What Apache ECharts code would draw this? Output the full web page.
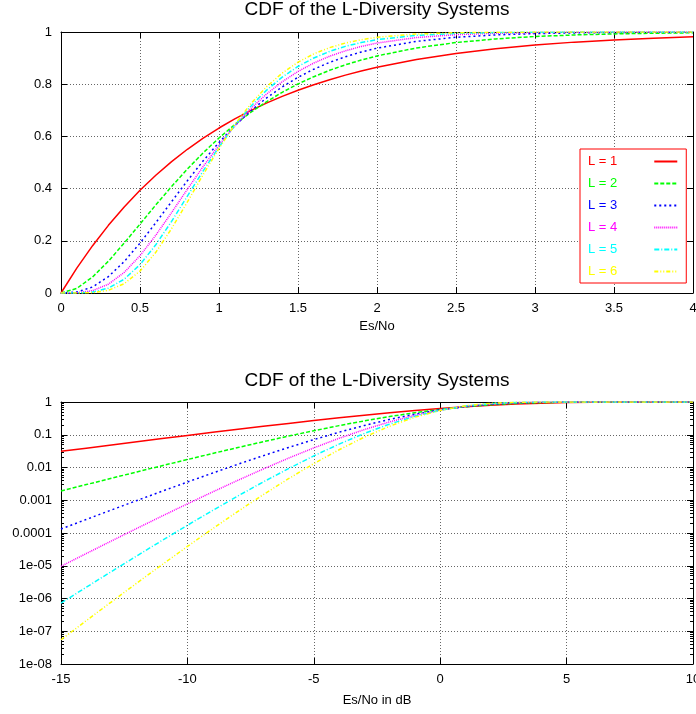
<!DOCTYPE html>
<html>
<head>
<meta charset="utf-8">
<script src="https://cdn.jsdelivr.net/npm/echarts@6/dist/echarts.min.js"></script>
<style>
  html, body { margin: 0; padding: 0; background: #fff; }
  #chart { width: 696px; height: 714px; }
</style>
</head>
<body>
<div id="chart"></div>
<script>
// top plot: Es/No (linear)
var xLin = [0, 0.1, 0.2, 0.3, 0.4, 0.5, 0.6, 0.7, 0.8, 0.9, 1.0, 1.1, 1.2, 1.3, 1.4, 1.5, 1.6, 1.7, 1.8, 1.9, 2.0,
            2.25, 2.5, 2.75, 3, 3.25, 3.5, 3.75, 4];
var cdf1 = [0, .0952, .1813, .2592, .3297, .3935, .4512, .5034, .5507, .5934, .6321, .6671, .6988, .7275, .7534, .7769, .7981, .8173, .8347, .8504, .8647,
            .8946, .9179, .9361, .9502, .9612, .9698, .9765, .9817];
var cdf2 = [0, .0175, .0616, .1219, .1912, .2642, .3374, .4082, .4751, .5372, .5940, .6454, .6916, .7326, .7689, .8009, .8288, .8532, .8743, .8926, .9084,
            .9389, .9596, .9734, .9826, .9887, .9927, .9953, .9970];
var cdf3 = [0, .0036, .0231, .0628, .1205, .1912, .2694, .3501, .4303, .5064, .5768, .6406, .6973, .7469, .7897, .8264, .8575, .8835, .9052, .9232, .9380,
            .9642, .9797, .9887, .9938, .9966, .9982, .9990, .9995];
var cdf4 = [0, .0008, .0091, .0337, .0788, .1429, .2214, .3082, .3975, .4848, .5665, .6405, .7058, .7619, .8094, .8488, .8811, .9072, .9280, .9446, .9576,
            .9788, .9897, .9951, .9977, .9990, .9995, .9998, .9999];
var cdf5 = [0, .0002, .0037, .0186, .0527, .1088, .1847, .2746, .3712, .4679, .5595, .6425, .7149, .7764, .8270, .8679, .9004, .9256, .9450, .9597, .9707,
            .9873, .9947, .9978, .9991, .9997, .9999, 1, 1];
var cdf6 = [0, .00004, .0015, .0104, .0357, .0839, .1559, .2468, .3490, .4539, .5543, .6453, .7241, .7897, .8427, .8843, .9162, .9401, .9577, .9705, .9797,
            .9923, .9972, .9990, .9997, .9999, 1, 1, 1];

// bottom plot: Es/No in dB (log y)
var xDb = [-15, -14, -13, -12, -11, -10, -9, -8, -7, -6, -5, -4, -3, -2, -1, 0, 1, 2, 3, 4, 5, 6, 7, 8, 9, 10];
var db1 = [.03113, .03903, .04888, .06115, .07636, .09516, .11829, .14657, .18088, .22221, .27110, .32838, .39421,
           .46789, .54811, .63212, .71608, .79505, .86399, .91889, .95770, .98133, .99335, .99818, .99965, .99995];
var db2 = [.001918, .003007, .004701, .007323, .011359, .017523, .02686, .04074, .06129, .09093, .13271, .18984, .26513,
           .35965, .47134, .59399, .71642, .82479, .90773, .96036, .98687, .99688, .99955, .99996, 1, 1];
var db3 = [1.3255e-4, 2.5966e-4, 5.0632e-4, 9.8145e-4, 1.8882e-3, 3.5995e-3, 6.7825e-3, .012596, .02295, .04092, .07106, .11931, .19210,
           .29435, .42587, .57681, .72728, .85323, .93740, .98031, .99579, .99945, .99997, 1, 1, 1];
var db4 = [9.642e-6, 2.3597e-5, 5.7361e-5, 1.3826e-4, 3.2979e-4, 7.7624e-4, 1.7971e-3, 4.0757e-3, 9.0072e-3, .01929, .03969, .07787, .14376,
           .24745, .39254, .56653, .73993, .87656, .95706, .99002, .99861, .9999, 1, 1, 1, 1];
var db5 = [7.2203e-7, 2.2070e-6, 6.6871e-6, 2.0042e-5, 5.9245e-5, 1.7212e-4, 4.8940e-4, 1.3543e-3, 3.6237e-3, .00926, .02261, .05189, .10983,
           .21134, .36570, .55951, .75236, .89590, .97029, .99486, .9995, 1, 1, 1, 1, 1];
var db6 = [5.509e-8, 2.1030e-7, 7.9420e-7, 2.9589e-6, 1.0838e-5, 3.8856e-5, 1.3564e-4, 4.5786e-4, 1.4825e-3, 4.5574e-3, .01316, .03483, .08471,
           .18242, .34318, .55432, .76448, .91175, .97929, .99734, .9999, 1, 1, 1, 1, 1];

var names = ['L = 1', 'L = 2', 'L = 3', 'L = 4', 'L = 5', 'L = 6'];
var colors = ['#ff0000', '#00ff00', '#0000ff', '#ff00ff', '#00ffff', '#ffff00'];
var dashes = ['solid', [4, 2], [2, 3], [1, 1], [5, 2, 1, 2], [4, 2, 1, 2, 1, 2]];
var linData = [cdf1, cdf2, cdf3, cdf4, cdf5, cdf6];
var dbData = [db1, db2, db3, db4, db5, db6];

var FONT = 'Liberation Sans';
var chart = echarts.init(document.getElementById('chart'));

function pairs(xs, ys) {
    return xs.map(function (x, i) { return [x, ys[i]]; });
}

var gridLine = { show: true, lineStyle: { color: '#666', type: [1, 2], width: 1 } };
var axLine = { show: true, onZero: false, lineStyle: { color: '#000', width: 1 } };
var lbl = { color: '#000', fontSize: 13, fontFamily: FONT };
var tick = { inside: true, length: 6, lineStyle: { color: '#000' } };

function mirror(base) {
    return Object.assign({
        axisLine: axLine,
        axisTick: tick,
        axisLabel: { show: false },
        splitLine: { show: false }
    }, base);
}

// minor ticks of the log axis (2..9 per decade)
var minorVals = [];
for (var e = -8; e < 0; e++) {
    for (var m = 2; m <= 9; m++) minorVals.push(m * Math.pow(10, e));
}

function logLabel(v) {
    var ex = Math.round(Math.log10(v));
    if (ex >= -4) return String(Number(Math.pow(10, ex).toPrecision(1)));
    return '1e-0' + (-ex);
}

var series = [];
names.forEach(function (n, i) {
    var ls = { color: colors[i], width: 1.5, type: dashes[i] };
    series.push({
        name: n, type: 'line', xAxisIndex: 0, yAxisIndex: 0,
        symbol: 'none', animation: false, lineStyle: ls, itemStyle: { color: colors[i] },
        data: pairs(xLin, linData[i])
    });
    series.push({
        name: n, type: 'line', xAxisIndex: 2, yAxisIndex: 2,
        symbol: 'none', animation: false, lineStyle: ls, itemStyle: { color: colors[i] },
        data: pairs(xDb, dbData[i])
    });
});

var titleStyle = { fontSize: 19, fontWeight: 'normal', color: '#000', fontFamily: FONT };

var option = {
    backgroundColor: '#fff',
    animation: false,
    title: [
        { text: 'CDF of the L-Diversity Systems', left: 377, top: 0, textAlign: 'center', padding: 0, textStyle: titleStyle },
        { text: 'CDF of the L-Diversity Systems', left: 377, top: 371, textAlign: 'center', padding: 0, textStyle: titleStyle }
    ],
    legend: {
        orient: 'vertical',
        left: 580, top: 149,
        align: 'right',
        padding: [6, 8, 5, 8],
        itemGap: 9,
        itemWidth: 23,
        itemHeight: 14,
        backgroundColor: '#fff',
        borderColor: '#ff0000',
        borderWidth: 1,
        borderRadius: 0,
        selectedMode: false,
        itemStyle: { color: 'rgba(0,0,0,0)', borderWidth: 0, opacity: 0 },
        textStyle: { fontSize: 13, fontFamily: FONT, padding: [0, 32, 0, 0] },
        data: names.map(function (n, i) {
            return { name: n, textStyle: { color: colors[i] } };
        })
    },
    grid: [
        { left: 61, top: 32, width: 632, height: 261, outerBoundsMode: 'none' },
        { left: 61, top: 402, width: 632, height: 262, outerBoundsMode: 'none' }
    ],
    xAxis: [
        { gridIndex: 0, type: 'value', min: 0, max: 4, interval: 0.5, position: 'bottom',
          axisLine: axLine, axisTick: tick,
          axisLabel: Object.assign({ margin: 9 }, lbl), splitLine: gridLine,
          name: 'Es/No', nameLocation: 'middle', nameGap: 27,
          nameTextStyle: { color: '#000', fontSize: 13, fontFamily: FONT } },
        mirror({ gridIndex: 0, type: 'value', min: 0, max: 4, interval: 0.5, position: 'top' }),
        { gridIndex: 1, type: 'value', min: -15, max: 10, interval: 5, position: 'bottom',
          axisLine: axLine, axisTick: tick,
          axisLabel: Object.assign({ margin: 9 }, lbl), splitLine: gridLine,
          name: 'Es/No in dB', nameLocation: 'middle', nameGap: 30,
          nameTextStyle: { color: '#000', fontSize: 13, fontFamily: FONT } },
        mirror({ gridIndex: 1, type: 'value', min: -15, max: 10, interval: 5, position: 'top' })
    ],
    yAxis: [
        { gridIndex: 0, type: 'value', min: 0, max: 1, interval: 0.2, position: 'left',
          axisLine: axLine, axisTick: tick,
          axisLabel: Object.assign({ margin: 9 }, lbl), splitLine: gridLine },
        mirror({ gridIndex: 0, type: 'value', min: 0, max: 1, interval: 0.2, position: 'right' }),
        { gridIndex: 1, type: 'log', logBase: 10, min: 1e-8, max: 1, interval: 1, position: 'left',
          axisLine: axLine, axisTick: tick,
          axisLabel: Object.assign({ margin: 9, formatter: logLabel }, lbl), splitLine: gridLine },
        mirror({ gridIndex: 1, type: 'log', logBase: 10, min: 1e-8, max: 1, interval: 1, position: 'right' }),
        mirror({ gridIndex: 1, type: 'log', logBase: 10, min: 1e-8, max: 1, position: 'left',
                 axisLine: { show: false, onZero: false },
                 axisTick: { inside: true, length: 3, customValues: minorVals, lineStyle: { color: '#000' } } }),
        mirror({ gridIndex: 1, type: 'log', logBase: 10, min: 1e-8, max: 1, position: 'right',
                 axisLine: { show: false, onZero: false },
                 axisTick: { inside: true, length: 3, customValues: minorVals, lineStyle: { color: '#000' } } })
    ],
    series: series
};

chart.setOption(option);
</script>
</body>
</html>
